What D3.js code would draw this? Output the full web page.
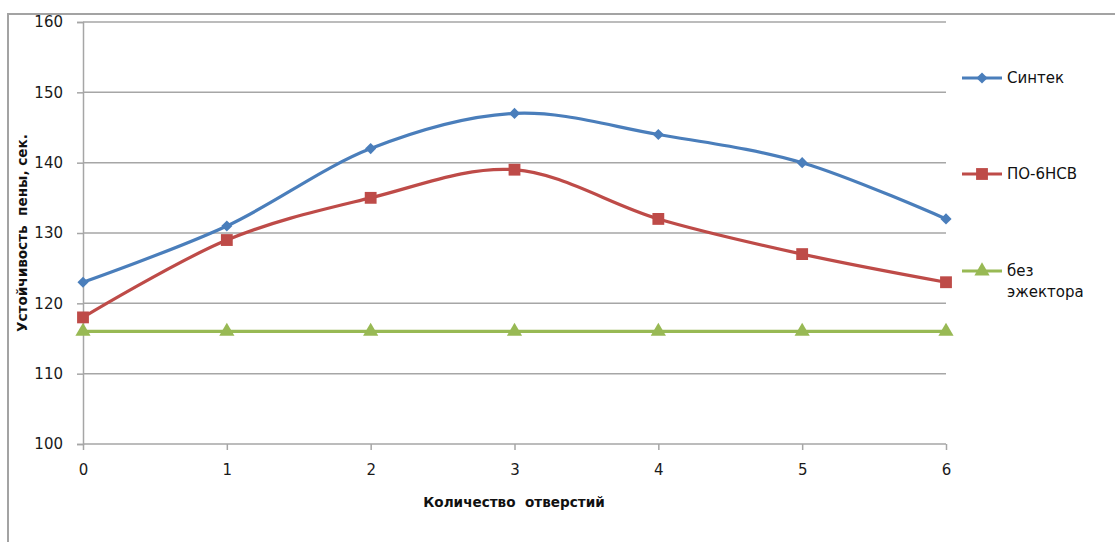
<!DOCTYPE html>
<html>
<head>
<meta charset="utf-8">
<script src="https://cdn.jsdelivr.net/npm/d3@7"></script>
<style>
  html, body { margin: 0; padding: 0; background: #fff; }
  svg { display: block; }
</style>
</head>
<body>
<svg id="chart" width="1115" height="542"></svg>
<script>
// Number of holes on the x axis
const holes = [0, 1, 2, 3, 4, 5, 6];
// Foam stability, seconds
const sintek = [123, 131, 142, 147, 144, 140, 132];
const po6nsv = [118, 129, 135, 139, 132, 127, 123];
const noEjector = [116, 116, 116, 116, 116, 116, 116];
const yTicks = [100, 110, 120, 130, 140, 150, 160];
const seriesNames = ["Синтек", "ПО-6НСВ", "без эжектора"];

const svg = d3.select("#chart");
const font = "DejaVu Sans, Verdana, sans-serif";
const gridColor = "#a6a6a6";

// outer frame (top and left edges visible)
svg.append("path")
  .attr("d", "M8,542 V14 H1115")
  .attr("fill", "none").attr("stroke", "#a3a3a3").attr("stroke-width", 2);

const x = d3.scaleLinear().domain([0, 6]).range([83, 946]);
const y = d3.scaleLinear().domain([100, 160]).range([444, 22]);

// y axis with ticks
const yAxis = d3.axisLeft(y).tickValues(yTicks).tickSize(6).tickPadding(14);
const gy = svg.append("g").attr("transform", "translate(83,0)").call(yAxis);
gy.select(".domain").attr("stroke", gridColor).attr("stroke-width", 1.5);
gy.selectAll(".tick line").attr("stroke", gridColor).attr("stroke-width", 1.5);
gy.selectAll(".tick text").attr("font-family", font).attr("font-size", 15).attr("fill", "#1a1a1a");

// horizontal gridlines
svg.append("g").selectAll("line").data(yTicks.filter(v => v !== 100)).join("line")
  .attr("x1", 83).attr("x2", 946)
  .attr("y1", d => y(d)).attr("y2", d => y(d))
  .attr("stroke", gridColor).attr("stroke-width", 1.5);

// x axis
const xAxis = d3.axisBottom(x).tickValues(holes).tickSize(6).tickPadding(14).tickFormat(d3.format("d"));
const gx = svg.append("g").attr("transform", "translate(0,444)").call(xAxis);
gx.select(".domain").attr("stroke", gridColor).attr("stroke-width", 1.5).attr("d", "M83,0H946");
gx.selectAll(".tick line").attr("stroke", gridColor).attr("stroke-width", 1.5);
gx.selectAll(".tick text").attr("font-family", font).attr("font-size", 15).attr("fill", "#1a1a1a");

// axis titles
svg.append("text")
  .attr("x", 514).attr("y", 507).attr("text-anchor", "middle")
  .attr("font-family", font).attr("font-size", 13.6).attr("font-weight", "bold")
  .attr("fill", "#111").style("white-space", "pre")
  .text("Количество  отверстий");

svg.append("text")
  .attr("transform", "translate(27,233) rotate(-90)")
  .attr("text-anchor", "middle")
  .attr("font-family", font).attr("font-size", 13.6).attr("font-weight", "bold")
  .attr("fill", "#111").style("white-space", "pre")
  .text("Устойчивость  пены, сек.");

const series = [
  { name: seriesNames[0], values: sintek, color: "#4A7EBB", marker: d3.symbolSquare, size: 62, rot: 45 },
  { name: seriesNames[1], values: po6nsv, color: "#BE4B48", marker: d3.symbolSquare, size: 140, rot: 0 },
  { name: seriesNames[2], values: noEjector, color: "#98B954", marker: d3.symbolTriangle, size: 100, rot: 0 }
];

const line = d3.line()
  .x((d, i) => x(holes[i]))
  .y(d => y(d))
  .curve(d3.curveCardinal.tension(0));

const plot = svg.append("g");
series.slice().reverse().forEach(s => {
  plot.append("path")
    .attr("d", line(s.values))
    .attr("fill", "none").attr("stroke", s.color).attr("stroke-width", 3.2)
    .attr("stroke-linejoin", "round").attr("stroke-linecap", "round");
  plot.append("g").selectAll("path").data(s.values).join("path")
    .attr("transform", (d, i) => `translate(${x(holes[i])},${y(d)}) rotate(${s.rot})`)
    .attr("d", d3.symbol().type(s.marker).size(s.size))
    .attr("fill", s.color);
});

// legend
const legendY = [78, 174, 271];
series.forEach((s, i) => {
  const g = svg.append("g").attr("transform", `translate(0,${legendY[i]})`);
  g.append("line").attr("x1", 962).attr("x2", 1002).attr("y1", 0).attr("y2", 0)
    .attr("stroke", s.color).attr("stroke-width", 3.2);
  g.append("path").attr("transform", `translate(982,0) rotate(${s.rot})`)
    .attr("d", d3.symbol().type(s.marker).size(s.size)).attr("fill", s.color);
  const words = i === 2 ? ["без", "эжектора"] : [s.name];
  words.forEach((w, j) => {
    g.append("text").attr("x", 1007).attr("y", j * 21).attr("dy", "0.35em")
      .attr("font-family", font).attr("font-size", 15).attr("fill", "#111").text(w);
  });
});
</script>
</body>
</html>
